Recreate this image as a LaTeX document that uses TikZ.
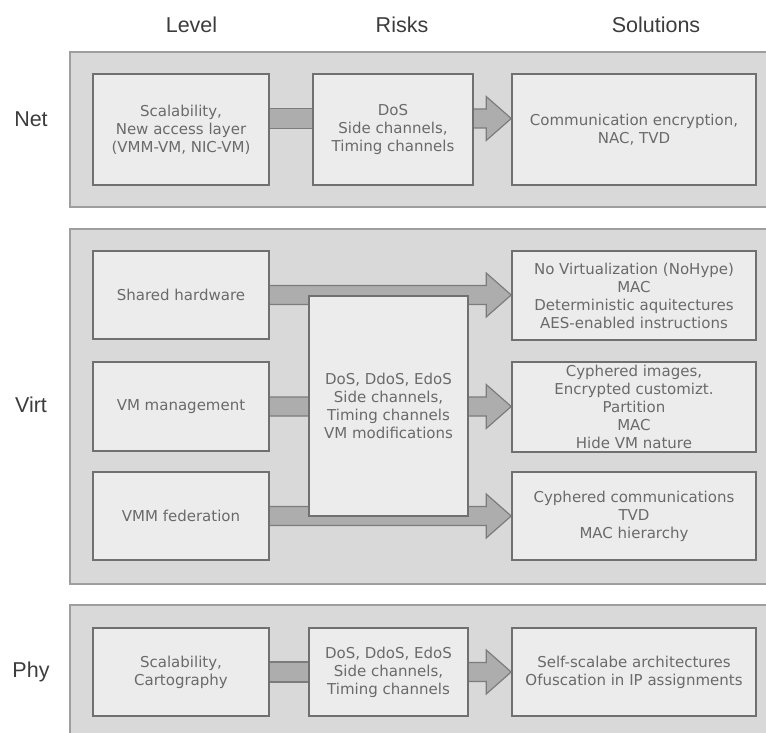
\documentclass[tikz,border=0pt]{standalone}
\usepackage{fontspec}
\setmainfont{Liberation Sans}
\newfontfamily\dejavu{DejaVu Sans}
\usetikzlibrary{calc}

\pgfdeclarelayer{panels}
\pgfdeclarelayer{links}
\pgfsetlayers{panels,links,main}

\definecolor{panelfill}{HTML}{D9D9D9}
\definecolor{panelline}{HTML}{9E9E9E}
\definecolor{boxfill}{HTML}{ECECEC}
\definecolor{boxline}{HTML}{707070}
\definecolor{boxtext}{HTML}{6A6A6A}
\definecolor{arrowfill}{HTML}{ADADAD}
\definecolor{arrowline}{HTML}{7C7C7C}
\definecolor{headtext}{HTML}{3C3C3C}

% fat arrow from the east side of one box to the west side of another
\newcommand{\fatarrow}[2]{%
  \path[arrowbody] let \p1=#1, \p2=#2 in
    (\x1-2pt,\y1+9.5pt) -- (\x2-25pt,\y1+9.5pt) -- (\x2-25pt,\y1+22pt)
    -- (\x2,\y1) -- (\x2-25pt,\y1-22pt) -- (\x2-25pt,\y1-9.5pt)
    -- (\x1-2pt,\y1-9.5pt) -- cycle;}
% plain band (no head) joining two boxes
\newcommand{\fatband}[2]{%
  \path[arrowbody] let \p1=#1, \p2=#2 in
    (\x1-2pt,\y1+10pt) -- (\x2+2pt,\y1+10pt)
    -- (\x2+2pt,\y1-10pt) -- (\x1-2pt,\y1-10pt) -- cycle;}

\begin{document}
\begin{tikzpicture}[x=1pt,y=-1pt,
  panel/.style={draw=panelline, fill=panelfill, line width=1.3pt, inner sep=0pt},
  box/.style={draw=boxline, fill=boxfill, line width=1.6pt, inner sep=0pt,
    align=center, text=boxtext, font=\dejavu\fontsize{15}{18}\selectfont},
  arrowbody/.style={draw=arrowline, fill=arrowfill, line width=1.2pt, line join=miter},
  head/.style={text=headtext, inner sep=0pt, font=\fontsize{21.5}{26}\selectfont}]

\useasboundingbox (0,0) rectangle (766,733);

% column and row titles
\node[head] (hlevel) at (191.5,24.5) {Level};
\node[head] (hrisks) at (402,24.5) {Risks};
\node[head] (hsol)   at (656,24.5) {Solutions};
\node[head] (rnet)  at (31,119) {Net};
\node[head] (rvirt) at (31,405) {Virt};
\node[head] (rphy)  at (31,672) {Phy};

% level panels
\begin{pgfonlayer}{panels}
\node[panel, minimum width=698pt, minimum height=155pt] (pnet)  at (419,129.5) {};
\node[panel, minimum width=698pt, minimum height=355pt] (pvirt) at (419,406.5) {};
\node[panel, minimum width=698pt, minimum height=135pt] (pphy)  at (419,672.5) {};
\end{pgfonlayer}

% Net level
\node[box, minimum width=176pt, minimum height=111pt] (a1) at (181,129.5)
  {Scalability,\\New access layer\\(VMM-VM, NIC-VM)};
\node[box, minimum width=160pt, minimum height=111pt] (a2) at (393,129.5)
  {DoS\\Side channels,\\Timing channels};
\node[box, minimum width=244pt, minimum height=111pt] (a3) at (634,129.5)
  {Communication encryption,\\NAC, TVD};

% Virt level
\node[box, minimum width=176pt, minimum height=88pt] (v1) at (181,295) {Shared hardware};
\node[box, minimum width=176pt, minimum height=89pt] (v2) at (181,406.5) {VM management};
\node[box, minimum width=176pt, minimum height=88pt] (v3) at (181,516) {VMM federation};
\node[box, minimum width=159pt, minimum height=220pt] (vr) at (388.5,406)
  {DoS, DdoS, EdoS\\Side channels,\\Timing channels\\VM modifications};
\node[box, minimum width=244pt, minimum height=89pt] (s1) at (634,295.5)
  {No Virtualization (NoHype)\\MAC\\Deterministic aquitectures\\AES-enabled instructions};
\node[box, minimum width=244pt, minimum height=90pt] (s2) at (634,407)
  {Cyphered images,\\Encrypted customizt.\\Partition\\MAC\\Hide VM nature};
\node[box, minimum width=244pt, minimum height=88pt] (s3) at (634,516)
  {Cyphered communications\\TVD\\MAC hierarchy};

% Phy level
\node[box, minimum width=176pt, minimum height=88pt] (p1) at (181,672)
  {Scalability,\\Cartography};
\node[box, minimum width=159pt, minimum height=88pt] (p2) at (388.5,672)
  {DoS, DdoS, EdoS\\Side channels,\\Timing channels};
\node[box, minimum width=244pt, minimum height=88pt] (p3) at (634,672)
  {Self-scalabe architectures\\Ofuscation in IP assignments};

% connectors, drawn beneath the boxes
\begin{pgfonlayer}{links}
\fatband{([yshift=11pt]a1.east)}{([yshift=11pt]a2.west)}
\fatarrow{([yshift=11pt]a2.east)}{([yshift=11pt]a3.west)}
\fatarrow{(v1.east)}{(s1.west)}
\fatarrow{(v2.east)}{(s2.west)}
\fatarrow{(v3.east)}{(s3.west)}
\fatband{(p1.east)}{(p2.west)}
\fatarrow{(p2.east)}{(p3.west)}
\end{pgfonlayer}

\end{tikzpicture}
\end{document}
